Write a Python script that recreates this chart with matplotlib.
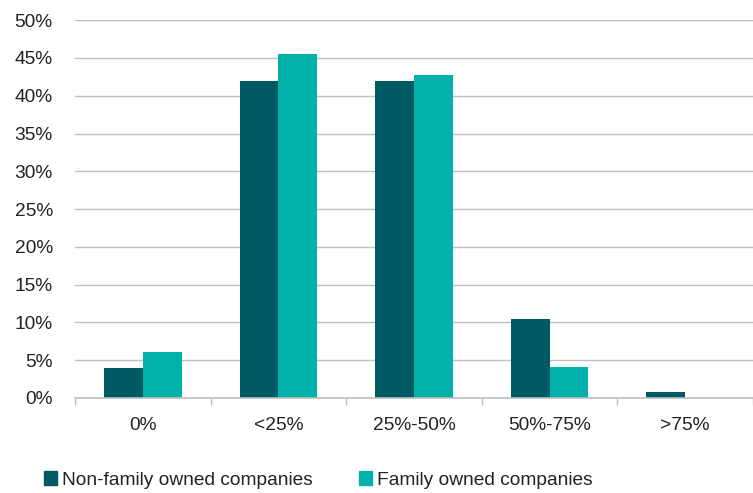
import numpy as np
import matplotlib.pyplot as plt
from matplotlib.patches import Patch

categories = ["0%", "<25%", "25%-50%", "50%-75%", ">75%"]
non_family = [4.0, 41.9, 41.9, 10.4, 0.8]
family = [6.1, 45.5, 42.7, 4.1, 0.0]

dark = "#005A64"
light = "#00B2AA"
grid_c = "#BFBFBF"
text_c = "#222222"

plt.rcParams["font.family"] = ["Liberation Sans", "DejaVu Sans"]
plt.rcParams["font.size"] = 13.8

fig = plt.figure(figsize=(7.53, 4.93), dpi=100)
ax = fig.add_axes([0.0996, 0.193, 0.9004, 0.766])

x = np.arange(len(categories))
w = 0.2857
ax.bar(x - w / 2, non_family, w, color=dark, zorder=3)
ax.bar(x + w / 2, family, w, color=light, zorder=3)

ax.set_xlim(-0.5, len(categories) - 0.5)
ax.set_ylim(0, 50)
ax.set_yticks(np.arange(0, 51, 5))
ax.set_yticklabels([f"{v}%" for v in range(0, 51, 5)], color=text_c)
ax.yaxis.grid(True, color=grid_c, linewidth=1.0, zorder=0)
ax.tick_params(axis="y", length=0, pad=16)

# category labels centred, tick marks on group boundaries
ax.set_xticks(x)
ax.set_xticklabels(categories, color=text_c)
ax.tick_params(axis="x", which="major", length=0, pad=14)
ax.set_xticks(np.arange(-0.5, len(categories), 1), minor=True)
ax.tick_params(axis="x", which="minor", length=5, width=1, color=grid_c, direction="out")

for s in ["top", "right", "left"]:
    ax.spines[s].set_visible(False)
ax.spines["bottom"].set_color(grid_c)
ax.spines["bottom"].set_linewidth(1.2)
ax.spines["bottom"].set_zorder(4)

handles = [Patch(color=dark, label="Non-family owned companies"),
           Patch(color=light, label="Family owned companies")]
fig.legend(handles=handles, loc="center left", bbox_to_anchor=(0.058, 0.026),
           ncol=2, frameon=False, handlelength=0.7, handleheight=0.7,
           handletextpad=0.25, columnspacing=2.4, borderaxespad=0, borderpad=0,
           labelcolor=text_c)

fig.savefig("out.png", dpi=100)
